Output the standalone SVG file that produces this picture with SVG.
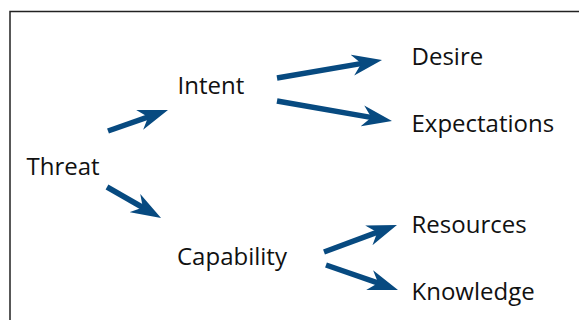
<svg xmlns="http://www.w3.org/2000/svg" width="579" height="320" viewBox="0 0 579 320">
<style>
.lbl{font-family:"Open Sans","Noto Sans",sans-serif;font-size:24px;fill:#111}
.arr{stroke:#074a80;stroke-width:5.5;fill:none;marker-end:url(#head)}
.frame{stroke:#222;stroke-width:1.5;fill:none}
</style>
<defs>
<marker id="head" viewBox="0 -11 30 22" refX="10" refY="0" markerWidth="30" markerHeight="22" markerUnits="userSpaceOnUse" orient="auto">
<path d="M30,0 L0,-10.5 L9,0 L0,10.5 Z" fill="#074a80"/>
</marker>
</defs>
<rect width="579" height="320" fill="#fff"/>
<path class="frame" d="M10,320 L10,11.5 L579,11.5"/>
<g id="threat"><text class="lbl" x="26.5" y="175">Threat</text></g>
<g id="intent"><text class="lbl" x="177.5" y="93.5">Intent</text></g>
<g id="capability"><text class="lbl" x="177" y="265">Capability</text></g>
<g id="desire"><text class="lbl" x="411.5" y="65">Desire</text></g>
<g id="expectations"><text class="lbl" x="411.5" y="132">Expectations</text></g>
<g id="resources"><text class="lbl" x="411.5" y="233">Resources</text></g>
<g id="knowledge"><text class="lbl" x="411.5" y="300">Knowledge</text></g>
<g id="connectors">
<line class="arr" x1="108" y1="131" x2="149.1" y2="116.6"/>
<line class="arr" x1="107" y1="187" x2="143.7" y2="208"/>
<line class="arr" x1="277" y1="78" x2="362.3" y2="63.4"/>
<line class="arr" x1="277" y1="101" x2="372.3" y2="117.6"/>
<line class="arr" x1="324" y1="252" x2="378.2" y2="231.9"/>
<line class="arr" x1="326" y1="265" x2="379.1" y2="283.4"/>
</g>
</svg>
